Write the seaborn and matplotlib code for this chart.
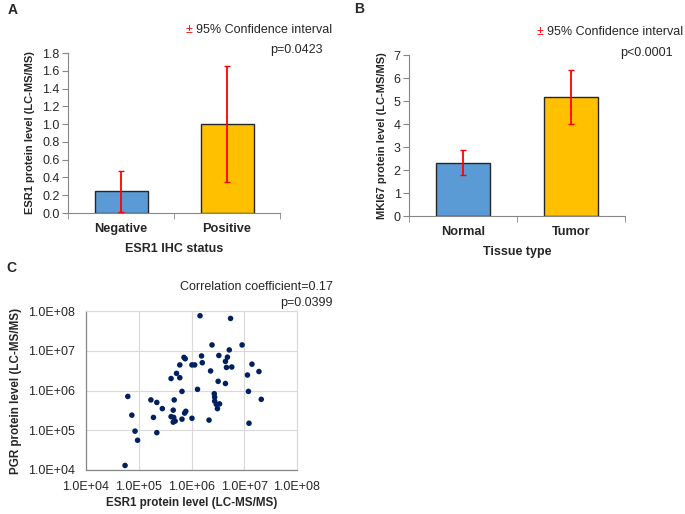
import numpy as np
import pandas as pd
import seaborn as sns
import matplotlib.pyplot as plt
from matplotlib.ticker import FixedLocator, FuncFormatter

sns.set_style('white')
plt.rcParams['font.family'] = ['Liberation Sans', 'DejaVu Sans']

# Panel A: ESR1 by IHC status
ihc_status = ['Negative', 'Positive']
esr1_mean = [0.245, 1.0]
esr1_ci_low = [0.01, 0.35]
esr1_ci_high = [0.475, 1.65]

# Panel B: MKI67 by tissue type
tissue = ['Normal', 'Tumor']
mki67_mean = [2.32, 5.17]
mki67_ci_low = [1.77, 4.0]
mki67_ci_high = [2.87, 6.33]

# Panel C: ESR1 vs PGR
esr1_level = [6.2e4, 7.4e4, 8.5e4, 9.5e4, 5.5e4, 1.7e5, 2.2e5, 2.8e5, 1.9e5, 2.2e5,
              4.1e5, 5.2e5, 6.0e5, 6.0e5, 7.2e5, 7.6e5, 1.02e6, 6.6e5, 4.7e5, 4.5e5,
              4.1e5, 4.6e5, 4.5e5, 4.9e5, 6.6e5, 7.4e5, 7.8e5, 1.02e6,
              1.45e6, 5.5e6, 2.45e6, 9.1e6, 5.2e6, 1.55e6, 3.3e6, 4.8e6, 1.6e6, 4.4e6,
              1.15e6, 4.6e6, 5.8e6, 2.3e6, 1.4e7, 1.9e7, 1.15e7, 3.2e6, 4.4e6, 1.3e6,
              1.2e7, 2.7e6, 2.75e6, 2.75e6, 2.95e6, 3.4e6, 3.1e6, 2.1e7, 2.15e6, 1.23e7]
pgr_level = [7.1e5, 2.4e5, 9.5e4, 5.6e4, 1.3e4, 5.8e5, 5.0e5, 3.5e5, 2.1e5, 8.7e4,
             2.0e6, 2.7e6, 2.1e6, 4.4e6, 6.8e6, 6.3e6, 4.4e6, 9.5e5, 5.8e5, 3.2e5,
             2.2e5, 2.1e5, 1.6e5, 1.7e5, 1.9e5, 2.7e5, 3.0e5, 2.0e5,
             7.6e7, 6.5e7, 1.4e7, 1.4e7, 1.05e7, 7.4e6, 7.6e6, 6.9e6, 5.0e6, 5.4e6,
             4.4e6, 3.8e6, 3.9e6, 3.1e6, 4.6e6, 3.0e6, 2.45e6, 1.7e6, 1.5e6, 1.07e6,
             9.5e5, 8.3e5, 6.8e5, 5.4e5, 4.5e5, 4.6e5, 3.5e5, 6.0e5, 1.8e5, 1.5e5]

W, H = 685, 514
fig = plt.figure(figsize=(W / 100, H / 100), dpi=100)


def px_axes(left, top, right, bottom):
    return fig.add_axes([left / W, 1 - bottom / H, (right - left) / W, (bottom - top) / H])


def px_text(x, y, s, **kw):
    fig.text(x / W, 1 - y / H, s, **kw)


bar_colors = ['#5B9BD5', '#FFC000']
spine_col = '#868686'


def bar_panel(ax, cats, means, lo, hi, ymax, yticks, yfmt, ylabel, xlabel):
    df = pd.DataFrame({'cat': cats, 'val': means})
    sns.barplot(data=df, x='cat', y='val', hue='cat', palette=bar_colors, width=0.5,
                saturation=1, edgecolor='#262626', linewidth=1.0, legend=False, ax=ax)
    err = [np.array(means) - np.array(lo), np.array(hi) - np.array(means)]
    ax.errorbar([0, 1], means, yerr=err, fmt='none', ecolor='#FF0000',
                elinewidth=1.3, capsize=2, capthick=1.0, zorder=5)
    ax.set_xlim(-0.5, 1.5)
    ax.set_ylim(0, ymax)
    ax.set_yticks(yticks)
    ax.set_yticklabels([yfmt.format(v) for v in yticks], fontsize=9)
    ax.set_xticks([0, 1])
    ax.set_xticklabels(cats, fontsize=9.2, fontweight='bold')
    ax.xaxis.set_minor_locator(FixedLocator([-0.5, 0.5, 1.5]))
    ax.tick_params(axis='x', which='major', length=0, pad=7)
    ax.tick_params(axis='x', which='minor', length=4, color=spine_col, direction='out', bottom=True)
    ax.tick_params(axis='y', length=4, color=spine_col, direction='out', left=True, pad=2)
    for s in ['top', 'right']:
        ax.spines[s].set_visible(False)
    for s in ['left', 'bottom']:
        ax.spines[s].set_color(spine_col)
        ax.spines[s].set_linewidth(0.8)
    ax.set_ylabel(ylabel, fontsize=8, fontweight='bold', labelpad=5)
    ax.set_xlabel(xlabel, fontsize=9, fontweight='bold', labelpad=6)


# Panel A
axA = px_axes(68, 53, 280, 213)
bar_panel(axA, ihc_status, esr1_mean, esr1_ci_low, esr1_ci_high, 1.8,
          np.arange(0, 1.81, 0.2), '{:.1f}', 'ESR1 protein level (LC-MS/MS)', 'ESR1 IHC status')
px_text(8, 10, 'A', fontsize=10, fontweight='bold', va='center')
px_text(189, 30, '±', color='#FF0000', fontsize=9, ha='center', va='center')
px_text(196, 30, '95% Confidence interval', fontsize=9, ha='left', va='center')
px_text(323, 50, 'p=0.0423', fontsize=9, ha='right', va='center')

# Panel B
axB = px_axes(409, 55, 625, 216)
bar_panel(axB, tissue, mki67_mean, mki67_ci_low, mki67_ci_high, 7,
          list(range(0, 8)), '{:d}', 'MKI67 protein level (LC-MS/MS)', 'Tissue type')
px_text(354, 9, 'B', fontsize=10, fontweight='bold', va='center')
px_text(540, 32, '±', color='#FF0000', fontsize=9, ha='center', va='center')
px_text(547, 32, '95% Confidence interval', fontsize=9, ha='left', va='center')
px_text(673, 53, 'p<0.0001', fontsize=9, ha='right', va='center')

# Panel C
axC = px_axes(86, 311, 297, 470)
sns.scatterplot(x=esr1_level, y=pgr_level, color='#002060', s=16, edgecolor='none', ax=axC)
axC.set_xscale('log')
axC.set_yscale('log')
axC.set_xlim(1e4, 1e8)
axC.set_ylim(1e4, 1e8)
decades = [1e4, 1e5, 1e6, 1e7, 1e8]
sci = FuncFormatter(lambda v, p: '{:.1E}'.format(v))
for axis in [axC.xaxis, axC.yaxis]:
    axis.set_major_locator(FixedLocator(decades))
    axis.set_major_formatter(sci)
    axis.set_minor_locator(FixedLocator([]))
axC.grid(True, color='#D9D9D9', linewidth=0.8)
axC.set_axisbelow(True)
axC.tick_params(axis='x', length=0, labelsize=9, pad=8)
axC.tick_params(axis='y', length=0, labelsize=9, pad=8)
for s in ['top', 'right']:
    axC.spines[s].set_color('#D9D9D9')
    axC.spines[s].set_linewidth(0.8)
for s in ['left', 'bottom']:
    axC.spines[s].set_color(spine_col)
    axC.spines[s].set_linewidth(0.9)
axC.set_xlabel('ESR1 protein level (LC-MS/MS)', fontsize=8.4, fontweight='bold', labelpad=3)
axC.set_ylabel('PGR protein level (LC-MS/MS)', fontsize=8.4, fontweight='bold', labelpad=4)
px_text(6, 268, 'C', fontsize=10, fontweight='bold', va='center')
px_text(333, 287, 'Correlation coefficient=0.17', fontsize=9, ha='right', va='center')
px_text(333, 303, 'p=0.0399', fontsize=9, ha='right', va='center')

fig.savefig('out.png', dpi=100)
